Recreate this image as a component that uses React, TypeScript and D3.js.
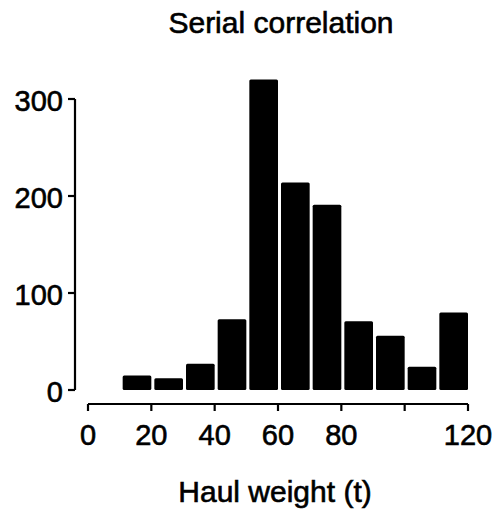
import React from "react";
import * as d3 from "d3";

const binStarts = [10, 20, 30, 40, 50, 60, 70, 80, 90, 100, 110];
const binWidth = 10;
const counts = [15, 12, 27, 73, 320, 214, 191, 71, 56, 24, 80];
const xTicks = [0, 20, 40, 60, 80, 100, 120];
const xTickLabels = ["0", "20", "40", "60", "80", "", "120"];
const yTicks = [0, 100, 200, 300];
const title = "Serial correlation";
const xLabel = "Haul weight (t)";

const W = 503;
const H = 521;
const FONT = "'Liberation Sans', Arial, Helvetica, sans-serif";

export default function App() {
  const x = d3.scaleLinear().domain([0, 120]).range([88, 468]);
  const y = d3.scaleLinear().domain([0, 300]).range([390, 99]);
  const axisX = 75;
  const axisY = 404;
  const gap = 3;
  const textStyle = { stroke: "#000", strokeWidth: 0.6 };

  return (
    <svg
      width={W}
      height={H}
      style={{ position: "absolute", left: 0, top: 0, background: "#fff" }}
      fontFamily={FONT}
    >
      <text x={281} y={33} textAnchor="middle" fontSize={30} fill="#000" {...textStyle}>
        {title}
      </text>

      {/* bars */}
      {binStarts.map((s, i) => (
        <rect
          key={i}
          x={x(s) + gap}
          y={y(counts[i])}
          width={x(s + binWidth) - x(s) - gap}
          height={y(0) - y(counts[i])}
          rx={1.5}
          fill="#000"
        />
      ))}

      {/* y axis */}
      <line x1={axisX} x2={axisX} y1={y(300)} y2={y(0)} stroke="#000" strokeWidth={2.2} />
      {yTicks.map((t) => (
        <g key={t}>
          <line x1={axisX - 7} x2={axisX} y1={y(t)} y2={y(t)} stroke="#000" strokeWidth={2.2} />
          <text x={63} y={y(t) + 11.5} textAnchor="end" fontSize={29} fill="#000" {...textStyle}>
            {t}
          </text>
        </g>
      ))}

      {/* x axis */}
      <line x1={x(0)} x2={x(120)} y1={axisY} y2={axisY} stroke="#000" strokeWidth={2.2} />
      {xTicks.map((t, i) => (
        <g key={t}>
          <line x1={x(t)} x2={x(t)} y1={axisY} y2={axisY + 7} stroke="#000" strokeWidth={2.2} />
          <text x={x(t)} y={445} textAnchor="middle" fontSize={29} fill="#000" {...textStyle}>
            {xTickLabels[i]}
          </text>
        </g>
      ))}

      <text x={275} y={502} textAnchor="middle" fontSize={30} fill="#000" {...textStyle}>
        {xLabel}
      </text>
    </svg>
  );
}
